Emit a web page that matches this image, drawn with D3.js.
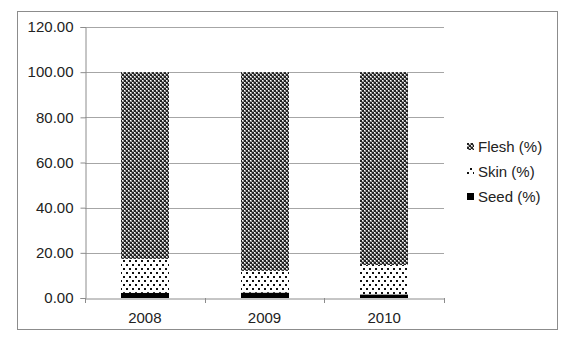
<!DOCTYPE html>
<html>
<head>
<meta charset="utf-8">
<script src="https://cdn.jsdelivr.net/npm/d3@7"></script>
<style>
  body { margin: 0; background: #fff; }
  svg text { font-family: "Liberation Sans", Arial, sans-serif; fill: #222; font-size: 15px; }
</style>
</head>
<body>
<div id="chart"></div>
<script>
// Data
const years = ["2008", "2009", "2010"];
const seed = [2.3, 2.4, 1.6];
const skin = [15.0, 9.6, 13.0];
const flesh = [82.7, 88.0, 85.4];
const seriesNames = ["Seed (%)", "Skin (%)", "Flesh (%)"];
const yTicks = [0, 20, 40, 60, 80, 100, 120];

const width = 573, height = 339;
const plot = { left: 85, right: 444, top: 27, bottom: 298 };

const svg = d3.select("#chart").append("svg")
  .attr("width", width)
  .attr("height", height);

// Fill patterns
const defs = svg.append("defs");
const pFlesh = defs.append("pattern").attr("id", "pat-flesh")
  .attr("patternUnits", "userSpaceOnUse").attr("width", 4).attr("height", 4);
pFlesh.append("rect").attr("width", 4).attr("height", 4).attr("fill", "#9a9a9a");
pFlesh.append("rect").attr("x", 0).attr("y", 0).attr("width", 2).attr("height", 2).attr("fill", "#222");
pFlesh.append("rect").attr("x", 2).attr("y", 2).attr("width", 2).attr("height", 2).attr("fill", "#222");
pFlesh.append("rect").attr("x", 2).attr("y", 0).attr("width", 1).attr("height", 1).attr("fill", "#fff");
pFlesh.append("rect").attr("x", 0).attr("y", 2).attr("width", 1).attr("height", 1).attr("fill", "#fff");

const pSkin = defs.append("pattern").attr("id", "pat-skin")
  .attr("patternUnits", "userSpaceOnUse").attr("width", 6).attr("height", 8);
pSkin.append("rect").attr("width", 6).attr("height", 8).attr("fill", "#fff");
pSkin.append("rect").attr("x", 0).attr("y", 0).attr("width", 2).attr("height", 2).attr("fill", "#111");
pSkin.append("rect").attr("x", 3).attr("y", 4).attr("width", 2).attr("height", 2).attr("fill", "#111");

const fills = ["#000", "url(#pat-skin)", "url(#pat-flesh)"];

// Outer border
svg.append("rect")
  .attr("x", 17.5).attr("y", 11.5)
  .attr("width", 540).attr("height", 318)
  .attr("fill", "none")
  .attr("stroke", "#8c8c8c")
  .attr("stroke-width", 1);

// Scales
const x = d3.scaleBand()
  .domain(years)
  .range([plot.left, plot.right])
  .paddingInner(0.6)
  .paddingOuter(0.3);

const y = d3.scaleLinear()
  .domain([0, 120])
  .range([plot.bottom, plot.top]);

// Gridlines
svg.append("g")
  .selectAll("line")
  .data(yTicks.filter(d => d > 0))
  .enter()
  .append("line")
  .attr("x1", plot.left)
  .attr("x2", plot.right)
  .attr("y1", d => Math.round(y(d)) + 0.5)
  .attr("y2", d => Math.round(y(d)) + 0.5)
  .attr("stroke", "#a6a6a6");

// Stacked bars
const rows = years.map((yr, i) => ({ year: yr, seed: seed[i], skin: skin[i], flesh: flesh[i] }));
const stack = d3.stack().keys(["seed", "skin", "flesh"]);
const layers = stack(rows);

svg.append("g")
  .selectAll("g")
  .data(layers)
  .enter()
  .append("g")
  .attr("fill", (d, i) => fills[i])
  .selectAll("rect")
  .data(d => d)
  .enter()
  .append("rect")
  .attr("x", d => Math.round(x(d.data.year)))
  .attr("width", Math.round(x.bandwidth()))
  .attr("y", d => y(d[1]))
  .attr("height", d => y(d[0]) - y(d[1]));

// Y axis
const yAxis = svg.append("g")
  .attr("transform", `translate(${plot.left + 0.5},0)`)
  .call(d3.axisLeft(y).tickValues(yTicks).tickSize(5).tickFormat(d3.format(".2f")));
yAxis.attr("font-size", null).attr("font-family", null);
yAxis.select(".domain").attr("stroke", "#8c8c8c");
yAxis.selectAll(".tick line").attr("stroke", "#8c8c8c");
yAxis.selectAll(".tick text")
  .attr("x", -12)
  .attr("fill", "#222");

// X axis
const xAxis = svg.append("g")
  .attr("transform", `translate(0,${plot.bottom + 0.5})`)
  .call(d3.axisBottom(x).tickSize(0).tickSizeOuter(0));
xAxis.attr("font-size", null).attr("font-family", null);
xAxis.select(".domain").attr("stroke", "#8c8c8c");
xAxis.selectAll(".tick text")
  .attr("dy", "1.4em")
  .attr("fill", "#222");

// Category boundary ticks
const bounds = d3.range(years.length + 1).map(i => plot.left + i * (plot.right - plot.left) / years.length);
svg.append("g")
  .selectAll("line")
  .data(bounds)
  .enter()
  .append("line")
  .attr("x1", d => Math.round(d) + 0.5)
  .attr("x2", d => Math.round(d) + 0.5)
  .attr("y1", plot.bottom)
  .attr("y2", plot.bottom + 5)
  .attr("stroke", "#8c8c8c");

// Legend (Flesh on top)
const legendItems = [2, 1, 0];
const legend = svg.append("g")
  .selectAll("g")
  .data(legendItems)
  .enter()
  .append("g")
  .attr("transform", (d, i) => `translate(467,${147 + i * 25})`);

legend.append("rect")
  .attr("x", 0)
  .attr("y", -4)
  .attr("width", 7)
  .attr("height", 7)
  .attr("fill", d => fills[d]);

legend.append("text")
  .attr("x", 11)
  .attr("y", 0)
  .attr("dy", "0.35em")
  .text(d => seriesNames[d]);
</script>
</body>
</html>
